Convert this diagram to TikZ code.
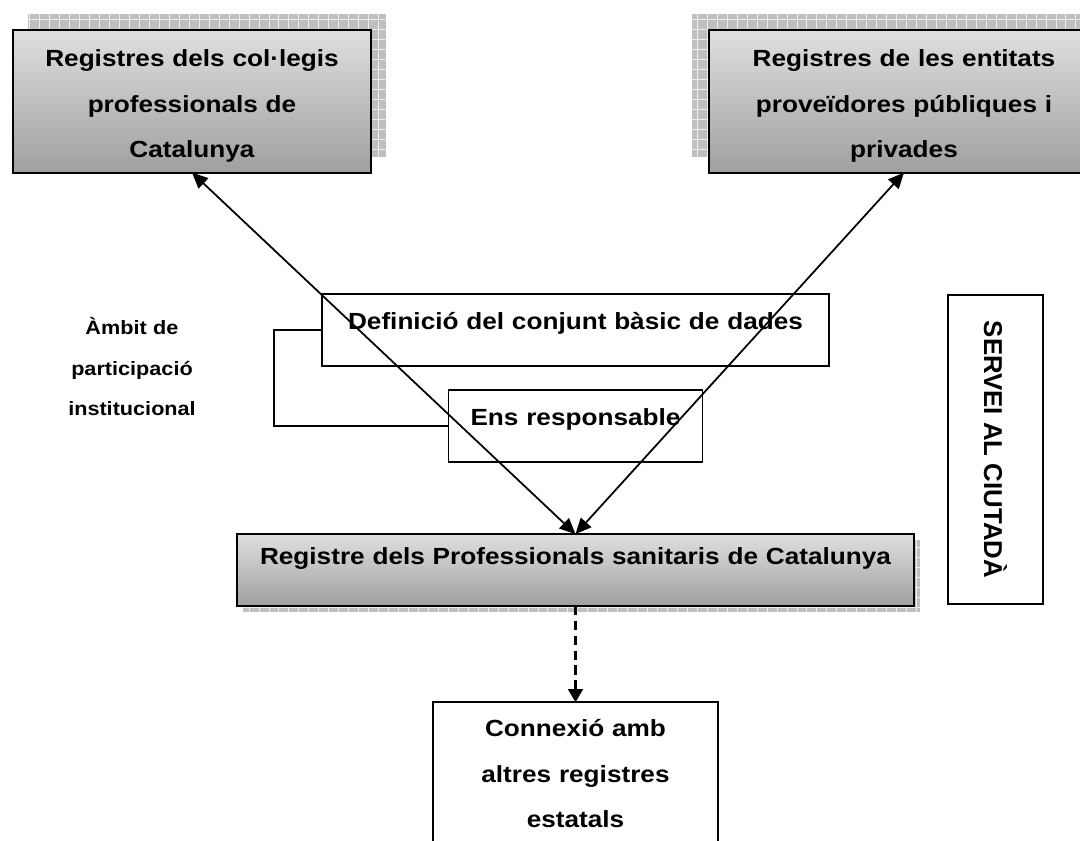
\documentclass[tikz,border=0pt]{standalone}
\usepackage{fontspec}
\setmainfont[FakeStretch=1.12]{Liberation Sans}
\newfontfamily\uprightfont{Liberation Sans}
\usetikzlibrary{arrows.meta}
\usetikzlibrary{backgrounds}

\tikzset{
 regbox/.style={draw, line width=1.1pt, top color=gray!25, bottom color=gray!75,
   inner sep=0pt, outer sep=0pt, align=center,
   font=\bfseries\fontsize{13.3}{25.8}\selectfont},
 plainbox/.style={draw, line width=1.1pt, fill=white, inner sep=0pt, outer sep=0pt,
   align=center, font=\bfseries\fontsize{13.3}{25.8}\selectfont},
 shadowfill/.style={fill=gray!50},
 shadowgrid/.style={draw=gray!15, line width=.5pt, step=5.67pt},
 link/.style={line width=1pt, {Triangle[length=9pt,width=8pt]}-{Triangle[length=9pt,width=8pt]}},
 dashlink/.style={line width=1.2pt, dash pattern=on 5.5pt off 3pt, -{Triangle[length=7.5pt,width=8.5pt]}},
}

\begin{document}
\begin{tikzpicture}[x=0.02cm, y=-0.02cm]
\useasboundingbox (0,0) rectangle (1080,841);
% registres d'origen
\node[regbox, text width=204.1pt, text height=21pt, text depth=60.1pt, anchor=base] (col) at (192,67)
  {Registres dels col·legis\\ professionals de\\ Catalunya};
\node[regbox, text width=222.2pt, text height=21pt, text depth=60.1pt, anchor=base] (ent) at (904,67)
  {Registres de les entitats\\ proveïdores públiques i\\ privades};
% ambit institucional
\node[plainbox, text width=288.6pt, text height=20.4pt, text depth=20.4pt, anchor=base] (def) at (575.5,330)
  {Definició del conjunt bàsic de dades};
\node[plainbox, text width=144.6pt, text height=20.4pt, text depth=20.4pt, anchor=base] (ens) at (575.5,426)
  {Ens responsable};
\node[anchor=base, text width=90pt, align=center, font=\bfseries\fontsize{11}{23}\selectfont] (ambit) at (132,335)
  {Àmbit de\\ participació\\ institucional};
\draw[line width=1.1pt] (def.west) -- ++(-48,0) |- (ens.west);
% registre central
\node[regbox, text width=384.9pt, text height=17.6pt, text depth=23.2pt, anchor=base] (prof) at (575.5,565)
  {Registre dels Professionals sanitaris de Catalunya};
\node[plainbox, text width=162.7pt, text height=19.8pt, text depth=75.4pt, anchor=base] (conn) at (575.5,737)
  {Connexió amb\\ altres registres\\ estatals};
\node[draw, line width=1.1pt, rotate=-90, minimum width=176.3pt, minimum height=53.9pt, inner sep=0pt,
  font=\uprightfont\bfseries\fontsize{14.7}{17}\selectfont] (serv) at (995.5,449.5) {SERVEI AL CIUTADÀ};
% ombres
\begin{scope}[on background layer]
\foreach \n/\dx/\dy in {col/15/-16, ent/-17/-16, prof/6/6} {
 \fill[shadowfill] ([shift={(\dx,\dy)}]\n.south west) rectangle ([shift={(\dx,\dy)}]\n.north east);
 \draw[shadowgrid] ([shift={(\dx,\dy)}]\n.south west) grid ([shift={(\dx,\dy)}]\n.north east);
}
\end{scope}
% fletxes
\draw[link] (col.south) -- (prof.north);
\draw[link] (ent.south) -- (prof.north);
\draw[dashlink] (prof.south) -- (conn.north);
\end{tikzpicture}
\end{document}
